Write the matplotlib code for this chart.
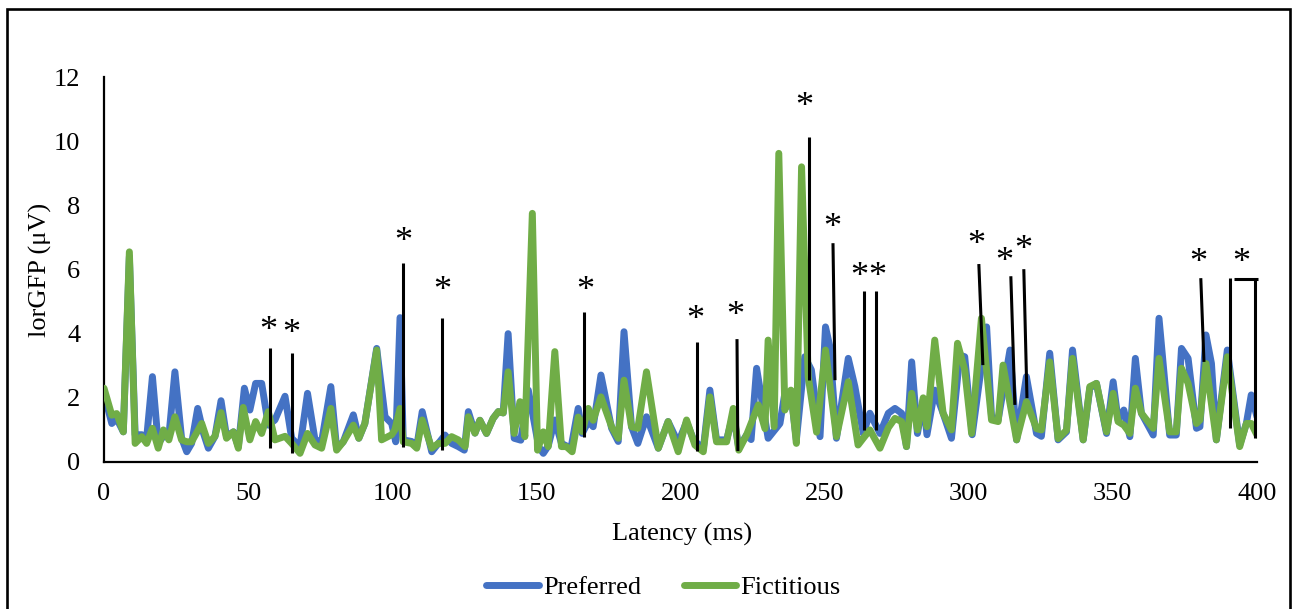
import matplotlib
matplotlib.use("Agg")
import matplotlib.pyplot as plt
from matplotlib.patches import Rectangle

plt.rcParams['font.family'] = ['Liberation Serif', 'DejaVu Serif']

# ---- data ----
pref_ms = [0, 2.7, 4.4, 6.7, 8.8, 10.8, 13.1, 14.8, 16.8, 18.8, 20.6, 22.5, 24.6, 26.9, 28.7,
           30.4, 32.5, 34.5, 36.2, 38.5, 40.6, 42.5, 44.9, 46.6, 48.7, 50.6, 52.6, 54.7, 57.0,
           59.3, 62.8, 65.1, 68.0, 70.6, 73.2, 75.5, 78.7, 80.7, 83.0, 86.5, 88.4, 90.5, 94.6,
           97.5, 99.8, 101.2, 102.7, 103.8, 106.7, 108.5, 110.4, 113.7, 116.0, 118.3, 120.6,
           122.9, 125.0, 126.4, 128.7, 130.4, 132.7, 135.0, 136.8, 138.5, 140.2, 142.3, 144.6,
           147.2, 150.8, 152.4, 154.1, 156.4, 158.7, 162.0, 164.5, 165.9, 168.0, 169.7, 172.4,
           176.1, 178.4, 180.4, 183.0, 185.2, 188.2, 192.3, 195.7, 199.2, 202.1, 204.5, 207.9,
           210.2, 212.5, 216.0, 218.3, 220.2, 222.9, 224.5, 226.4, 230.4, 234.5, 236.2, 238.3,
           240.2, 243.1, 245.4, 248.4, 250.3, 251.8, 254.1, 258.2, 260.5, 263.4, 265.7, 269.2,
           272.1, 274.4, 276.7, 278.4, 280.2, 282.2, 284.2, 285.5, 288.2, 291.1, 294.0, 296.9,
           298.6, 301.2, 306.2, 307.9, 310.2, 314.3, 316.6, 320.0, 323.5, 325.2, 328.1, 331.0,
           333.9, 336.0, 339.7, 342.0, 344.3, 347.8, 350.1, 351.8, 353.8, 355.9, 357.8, 359.9,
           364.0, 366.0, 369.7, 372.0, 373.8, 376.1, 379.0, 380.2, 382.3, 384.2, 385.9, 389.7,
           394.0, 396.3, 398.0, 400.0]
pref_uv = [2.14, 1.2, 1.35, 0.94, 6.4, 0.85, 0.85, 0.75, 2.66, 0.58, 0.8, 0.8, 2.81, 0.75, 0.32,
           0.58, 1.67, 0.9, 0.43, 0.8, 1.91, 0.8, 0.94, 0.48, 2.3, 1.62, 2.45, 2.45, 1.15,
           1.31, 2.05, 0.74, 0.48, 2.14, 0.69, 0.64, 2.35, 0.43, 0.63, 1.47, 0.74, 1.2, 3.54,
           1.41, 1.2, 0.63, 4.5, 0.69, 0.64, 0.48, 1.57, 0.32, 0.58, 0.84, 0.58,
           0.48, 0.37, 1.57, 0.9, 1.3, 0.89, 1.36, 1.57, 1.53, 4.0, 0.74, 0.68,
           2.24, 0.48, 0.27, 0.5, 1.31, 0.58, 0.43, 1.67, 0.89, 1.26, 1.1, 2.71,
           1.05, 0.64, 4.06, 1.1, 0.58, 1.41, 0.43, 1.26, 0.6, 1.25, 0.7, 0.4,
           2.24, 0.69, 0.69, 1.5, 0.45, 0.84, 0.7, 2.92, 0.74, 1.2, 2.14, 2.14,
           0.69, 3.28, 2.87, 0.79, 4.21, 3.6, 0.74, 3.23, 2.35, 0.89, 1.52, 0.89,
           1.52, 1.67, 1.52, 0.48, 3.12, 0.89, 1.93, 0.85, 2.24, 1.52, 0.74, 3.33,
           3.28, 0.85, 4.21, 1.41, 1.31, 3.49, 0.69, 2.66, 0.89, 0.8, 3.39, 0.69,
           0.94, 3.49, 0.69, 2.3, 2.45, 0.89, 2.5, 1.31, 1.62, 0.79, 3.23, 1.52,
           0.84, 4.48, 0.84, 0.84, 3.54, 3.23, 1.05, 1.1, 3.96, 3.07, 0.69, 3.49,
           0.53, 1.2, 2.09, 1.41]

fict_ms = [0, 2.7, 4.4, 6.7, 8.8, 10.8, 13.1, 14.8, 16.8, 18.8, 20.6, 22.5, 24.6, 26.9, 28.7,
           30.4, 33.9, 36.2, 38.5, 40.6, 42.5, 44.9, 46.6, 48.3, 50.6, 52.6, 54.7, 57.0, 59.3,
           62.8, 65.1, 68.0, 70.6, 73.2, 75.5, 78.7, 80.7, 83.0, 86.5, 88.4, 90.5, 94.6, 96.3,
           99.8, 100.9, 102.7, 103.8, 106.7, 108.5, 110.4, 113.7, 116.0, 118.3, 120.6, 122.9,
           125.3, 126.4, 128.7, 130.4, 132.7, 135.0, 136.8, 138.5, 140.2, 142.3, 144.3, 146.0,
           148.6, 150.4, 152.4, 154.1, 156.4, 158.7, 160.4, 162.4, 164.5, 165.9, 168.0, 169.7,
           172.4, 176.1, 178.4, 180.4, 183.0, 185.2, 188.2, 192.3, 195.7, 199.2, 202.1, 205.0,
           207.9, 210.2, 212.5, 216.0, 218.3, 220.2, 222.9, 227.0, 229.3, 230.4, 232.5, 234.1,
           236.2, 238.3, 240.2, 242.0, 244.3, 247.2, 250.3, 254.1, 258.2, 261.6, 263.4, 265.7,
           269.2, 272.1, 274.4, 276.7, 278.4, 280.2, 282.2, 284.2, 285.5, 288.2, 291.1, 294.0,
           296.1, 298.6, 301.0, 304.4, 307.9, 310.2, 311.9, 316.6, 320.0, 323.5, 325.2, 328.1,
           331.0, 333.9, 336.0, 339.7, 342.0, 344.3, 347.8, 350.1, 351.8, 353.8, 355.9, 357.8,
           359.9, 364.0, 366.0, 369.7, 372.0, 373.8, 376.1, 379.0, 380.2, 382.3, 385.9, 389.7,
           394.0, 396.3, 398.0, 400.0]
fict_uv = [2.3, 1.46, 1.51, 0.94, 6.55, 0.58, 0.79, 0.58, 1.05, 0.43, 1.0, 0.69, 1.41, 0.69, 0.63,
           0.63, 1.2, 0.58, 0.8, 1.54, 0.74, 0.94, 0.43, 1.7, 0.69, 1.26, 0.89, 1.57, 0.69,
           0.8, 0.58, 0.27, 0.89, 0.53, 0.43, 1.67, 0.37, 0.63, 1.15, 0.74, 1.2, 3.49, 0.69,
           0.85, 1.0, 1.67, 0.63, 0.58, 0.43, 1.31, 0.43, 0.58, 0.58, 0.79, 0.69,
           0.48, 1.41, 0.9, 1.3, 0.89, 1.36, 1.57, 1.53, 2.81, 0.89, 1.88, 0.79,
           7.75, 0.37, 0.94, 0.48, 3.44, 0.48, 0.48, 0.32, 1.4, 0.95, 1.67, 1.3,
           2.03, 1.1, 0.74, 2.55, 1.1, 1.05, 2.81, 0.43, 1.26, 0.32, 1.31, 0.53,
           0.32, 2.03, 0.63, 0.63, 1.67, 0.37, 0.84, 1.78, 1.04, 3.8, 1.1, 9.62,
           1.62, 2.24, 0.58, 9.2, 2.66, 0.93, 3.49, 0.79, 2.5, 0.53, 0.74, 1.0,
           0.43, 1.07, 1.36, 1.26, 0.48, 2.14, 1.0, 2.0, 1.1, 3.8, 1.52, 1.0,
           3.7, 2.87, 0.89, 4.48, 1.31, 1.26, 3.02, 0.69, 1.88, 1.04, 1.0, 3.12,
           0.73, 0.99, 3.23, 0.69, 2.35, 2.45, 0.94, 2.14, 1.26, 1.15, 0.89, 2.3,
           1.52, 1.05, 3.23, 0.94, 0.94, 2.92, 2.45, 1.2, 1.31, 3.07, 0.69, 3.28,
           0.48, 1.2, 1.2, 0.84]

series_names = ["Preferred", "Fictitious"]
series_colors = ["#4472C4", "#70AD47"]

x_ticks = [0, 50, 100, 150, 200, 250, 300, 350, 400]
y_ticks = [0, 2, 4, 6, 8, 10, 12]

# significance markers: line top (x, y) -> bottom (x, y), asterisk position
sig_x_top = [57.6, 65.2, 103.7, 117.2, 166.5, 205.7, 219.6, 244.5, 252.9, 263.6, 267.8,
             303.5, 314.6, 319.1, 380.5, 390.6, 399.2]
sig_x_bot = [57.6, 65.2, 103.7, 117.2, 166.5, 205.7, 219.9, 244.5, 253.6, 263.6, 267.8,
             304.9, 316.0, 320.2, 381.6, 390.6, 399.2]
sig_y_top = [3.55, 3.40, 6.20, 4.49, 4.67, 3.74, 3.83, 10.12, 6.82, 5.33, 5.33,
             6.17, 5.79, 6.01, 5.73, 5.73, 5.67]
sig_y_bot = [0.44, 0.28, 0.47, 0.37, 0.78, 0.34, 0.34, 2.55, 2.55, 1.00, 1.00,
             3.02, 1.78, 1.99, 3.12, 1.06, 0.75]
star_x = [56.9, 64.9, 103.7, 117.2, 166.8, 205.3, 218.9, 243.1, 252.5, 261.9, 268.1,
          302.5, 312.5, 318.8, 379.5, 394.7]
star_y = [4.08, 3.96, 6.85, 5.30, 5.30, 4.42, 4.55, 11.06, 7.29, 5.76, 5.76,
          6.76, 6.23, 6.60, 6.20, 6.20]
bracket_x = [392.0, 400.3]
bracket_y = 5.70

# ---- figure ----
W, H = 1293, 609
fig = plt.figure(figsize=(W / 100, H / 100), dpi=100)
ax = fig.add_axes([104 / W, 1 - 462 / H, (1257 - 104) / W, (462 - 77) / H])

lw = 5.0
ax.plot(pref_ms, pref_uv, color=series_colors[0], lw=lw, label=series_names[0],
        solid_joinstyle='round', solid_capstyle='round', zorder=2)
ax.plot(fict_ms, fict_uv, color=series_colors[1], lw=lw, label=series_names[1],
        solid_joinstyle='round', solid_capstyle='round', zorder=3)

for xt, xb, yt, yb in zip(sig_x_top, sig_x_bot, sig_y_top, sig_y_bot):
    ax.plot([xt, xb], [yt, yb], color='black', lw=2.2, zorder=5, clip_on=False,
            solid_capstyle='butt')
ax.plot(bracket_x, [bracket_y, bracket_y], color='black', lw=2.2, zorder=5, clip_on=False,
        solid_capstyle='butt')
for sx, sy in zip(star_x, star_y):
    ax.text(sx, sy, "*", ha='center', va='center', fontsize=26, color='black', zorder=6)

ax.set_xlim(0, 400)
ax.set_ylim(0, 12)
ax.set_xticks(x_ticks)
ax.set_yticks(y_ticks)
ax.set_xticklabels([str(v) for v in x_ticks])
ax.set_yticklabels([str(v) for v in y_ticks])
ax.tick_params(axis='both', length=0, labelsize=19, colors='black')
ax.tick_params(axis='y', pad=17)
ax.tick_params(axis='x', pad=15)
for s in ['top', 'right']:
    ax.spines[s].set_visible(False)
for s in ['left', 'bottom']:
    ax.spines[s].set_color('black')
    ax.spines[s].set_linewidth(1.6)

fig.text(682 / W, 1 - 534 / H, "Latency (ms)", ha='center', va='center', fontsize=19)
fig.text(40 / W, 1 - 270 / H, "lorGFP (μV)", ha='center', va='center', fontsize=19,
         rotation=90)

handles, labels = ax.get_legend_handles_labels()
fig.legend(handles, labels, loc='center', bbox_to_anchor=(663.5 / W, 1 - 587 / H), ncol=2,
           frameon=False, fontsize=19, handlelength=2.0, handletextpad=0.15,
           columnspacing=1.6, borderpad=0)

fig.patches.append(Rectangle((7 / W, -0.02), (1290 - 7) / W, 1 - 9 / H + 0.02,
                             transform=fig.transFigure, fill=False, edgecolor='black',
                             linewidth=1.9, zorder=10))

fig.savefig("out.png", dpi=100)
